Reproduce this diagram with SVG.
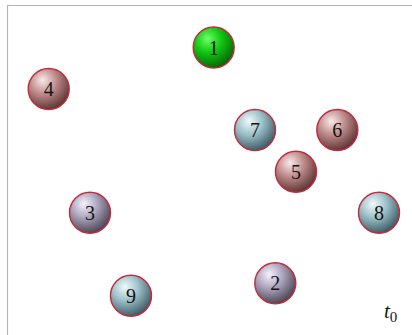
<svg xmlns="http://www.w3.org/2000/svg" width="412" height="335" viewBox="0 0 412 335">
<defs>
<radialGradient id="gG" cx="0.38" cy="0.32" r="0.72" fx="0.35" fy="0.28">
<stop offset="0" stop-color="#6cff6c"/>
<stop offset="0.45" stop-color="#12c812"/>
<stop offset="1" stop-color="#066006"/>
</radialGradient>
<radialGradient id="gR" cx="0.38" cy="0.32" r="0.72" fx="0.35" fy="0.28">
<stop offset="0" stop-color="#f8eaea"/>
<stop offset="0.45" stop-color="#c08c8c"/>
<stop offset="1" stop-color="#583030"/>
</radialGradient>
<radialGradient id="gB" cx="0.38" cy="0.32" r="0.72" fx="0.35" fy="0.28">
<stop offset="0" stop-color="#f0fafc"/>
<stop offset="0.45" stop-color="#9cc0c8"/>
<stop offset="1" stop-color="#38565f"/>
</radialGradient>
<radialGradient id="gP" cx="0.38" cy="0.32" r="0.72" fx="0.35" fy="0.28">
<stop offset="0" stop-color="#f8f2fe"/>
<stop offset="0.45" stop-color="#aca4bc"/>
<stop offset="1" stop-color="#46404f"/>
</radialGradient>
</defs>
<style>
.b{stroke:#c42a3c;stroke-width:1.4}
.n{font-family:"Liberation Serif","DejaVu Serif",serif;font-size:20px;fill:#141414;text-anchor:middle}
.fr{fill:none;stroke:#b4b4b4;stroke-width:1.2}
</style>
<rect width="412" height="335" fill="#ffffff"/>
<path class="fr" d="M7.5,335 V5.5 H412"/>
<g id="connectors"></g>
<g id="node1"><circle class="b" cx="213.7" cy="47.5" r="20.5" fill="url(#gG)"/><text class="n" x="213.7" y="54.5">1</text></g>
<g id="node4"><circle class="b" cx="48.7" cy="89" r="20.5" fill="url(#gR)"/><text class="n" x="48.7" y="96">4</text></g>
<g id="node7"><circle class="b" cx="255" cy="130" r="20.5" fill="url(#gB)"/><text class="n" x="255" y="137">7</text></g>
<g id="node6"><circle class="b" cx="337.3" cy="130" r="20.5" fill="url(#gR)"/><text class="n" x="337.3" y="137">6</text></g>
<g id="node5"><circle class="b" cx="296" cy="171.7" r="20.5" fill="url(#gR)"/><text class="n" x="296" y="178.7">5</text></g>
<g id="node3"><circle class="b" cx="90" cy="212.7" r="20.5" fill="url(#gP)"/><text class="n" x="90" y="219.7">3</text></g>
<g id="node8"><circle class="b" cx="379" cy="212.7" r="20.5" fill="url(#gB)"/><text class="n" x="379" y="219.7">8</text></g>
<g id="node2"><circle class="b" cx="275.3" cy="283.3" r="20.5" fill="url(#gP)"/><text class="n" x="275.3" y="290.3">2</text></g>
<g id="node9"><circle class="b" cx="131" cy="295.7" r="20.5" fill="url(#gB)"/><text class="n" x="131" y="302.7">9</text></g>
<text x="384" y="318" font-family="Liberation Serif,DejaVu Serif,serif" font-size="21" fill="#141414"><tspan font-style="italic">t</tspan><tspan font-size="15" dy="4">0</tspan></text>
</svg>
